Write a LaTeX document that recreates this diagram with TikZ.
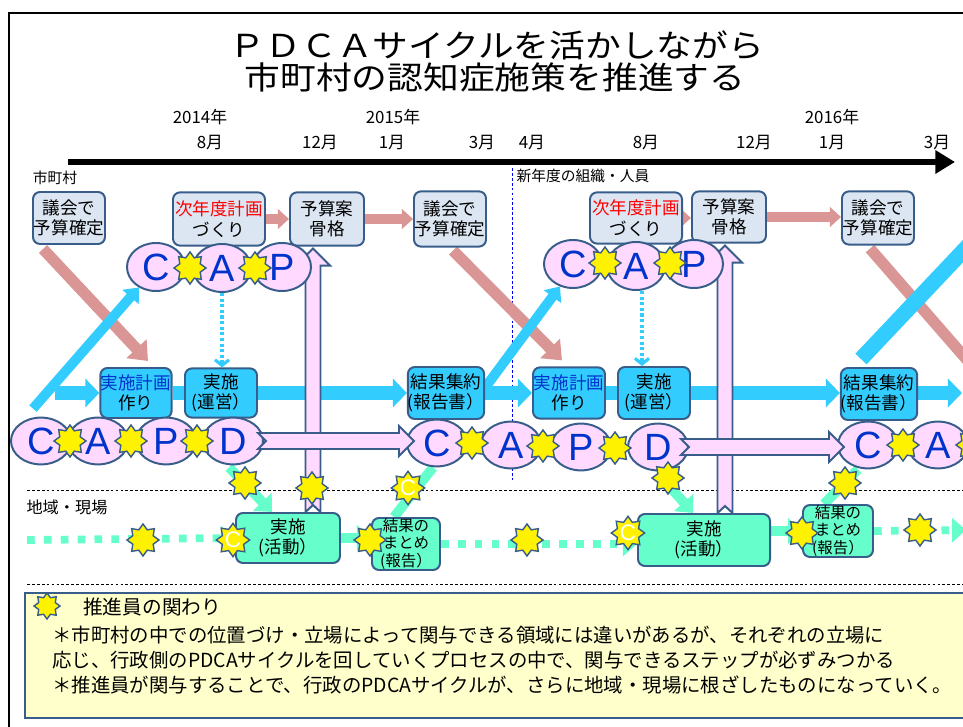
\documentclass[tikz,border=0pt]{standalone}
\usepackage{fontspec}
\setmainfont{Noto Sans CJK JP}
\newfontfamily\widejp{Noto Sans CJK JP}[FakeStretch=1.13]
\newfontfamily\latinsans{Liberation Sans}
\usetikzlibrary{arrows.meta,shapes.geometric,calc}

\definecolor{edgeblue}{RGB}{56,93,138}
\definecolor{paleblue}{RGB}{220,230,242}
\definecolor{skyblue}{RGB}{51,204,255}
\definecolor{salmon}{RGB}{217,150,148}
\definecolor{pinkfill}{RGB}{255,217,255}
\definecolor{mint}{RGB}{102,255,204}
\definecolor{letterblue}{RGB}{0,51,204}
\definecolor{notefill}{RGB}{255,255,204}

\pgfdeclarelayer{back}
\pgfdeclarelayer{flow}
\pgfdeclarelayer{front}
\pgfsetlayers{back,flow,main,front}

\tikzset{
  cityplan/.style={draw=edgeblue, fill=paleblue, line width=1.4pt, rounded corners=5pt,
    align=center, inner sep=0pt, font=\fontsize{12.5}{14.5}\selectfont},
  workbox/.style={cityplan, fill=skyblue},
  fieldbox/.style={cityplan, fill=mint},
  phase/.style={ellipse, draw=edgeblue, fill=pinkfill, line width=1.4pt, inner sep=0pt,
    minimum width=1.45cm, minimum height=1.2cm, text=letterblue,
    font=\latinsans\fontsize{27}{27}\selectfont},
  phaselow/.style={phase, minimum width=1.5cm, minimum height=1.17cm},
  helper/.style={star, star points=8, star point ratio=1.45, draw=edgeblue, fill=yellow,
    line width=1pt, minimum size=0.8cm, inner sep=0pt, text=white,
    font=\latinsans\fontsize{16}{16}\selectfont},
  budgetflow/.style={draw=salmon, line width=6.5pt, -{Triangle[length=8pt,width=14pt]}},
  budgetslant/.style={draw=salmon, line width=8pt, -{Triangle[length=12pt,width=19pt]}},
  workflow/.style={draw=skyblue, line width=10pt, -{Triangle[length=10pt,width=20pt]}},
  workslant/.style={draw=skyblue, line width=7pt, -{Triangle[length=9pt,width=15pt]}},
  fieldflow/.style={draw=mint, line width=7pt, -{Triangle[length=10pt,width=18pt]}},
  fielddots/.style={draw=mint, line width=5.5pt, dash pattern=on 5.5pt off 6.5pt,
    -{Triangle[length=10pt,width=17pt]}},
  blockpink/.style={draw=edgeblue, fill=pinkfill, line width=1.4pt, line join=miter},
  guide/.style={draw=skyblue, line width=2.2pt, dash pattern=on 2.2pt off 1.8pt,
    -{Straight Barb[length=4pt,width=10pt]}},
  sep/.style={line width=0.6pt, dash pattern=on 2pt off 1.5pt}
}

% horizontal pink block arrow: notched tail at #1, tip at #2
\newcommand{\pushflow}[2]{%
  \draw[blockpink] ($(#1)+(-8,-8)$) -- ($(#2)+(-15,-8)$) -- ($(#2)+(-15,-15)$)
    -- (#2) -- ($(#2)+(-15,15)$) -- ($(#2)+(-15,8)$) -- ($(#1)+(-8,8)$) -- (#1) -- cycle;}
% vertical pink block arrow: tail on #1, tip at #2
\newcommand{\riseflow}[2]{%
  \draw[blockpink] ($(#1)+(-7.5,0)$) -- ($(#2)+(-7.5,17)$) -- ($(#2)+(-17,17)$)
    -- (#2) -- ($(#2)+(17,17)$) -- ($(#2)+(7.5,17)$) -- ($(#1)+(7.5,0)$) -- ($(#1)+(0,-7)$) -- cycle;}

\begin{document}
\begin{tikzpicture}[x=0.025cm, y=-0.025cm]
\useasboundingbox (0,0) rectangle (963,727);
\clip (0,0) rectangle (963,727);

\draw[line width=1.3pt] (9,13) rectangle (1000,760);

%% title
\path
(497,45) node[font=\widejp\fontsize{22.5}{24}\selectfont, inner sep=0pt] (title) {ＰＤＣＡサイクルを活かしながら}
(495,77) node[font=\widejp\fontsize{22.5}{24}\selectfont, inner sep=0pt] (subtitle) {市町村の認知症施策を推進する};

%% time line
\coordinate (tstart) at (68,162);
\coordinate (tend) at (955,162);
\draw[line width=4.5pt, -{Triangle[length=14pt,width=16pt]}] (tstart) -- (tend);

\path[font=\fontsize{12}{14}\selectfont]
(200,117) node (y2014) {2014年}
(393,117) node (y2015) {2015年}
(832,117) node (y2016) {2016年}
(210,143) node (m8a) {8月}
(320,143) node (m12a) {12月}
(392,143) node (m1a) {1月}
(482,143) node (m3a) {3月}
(532,143) node (m4a) {4月}
(646,143) node (m8b) {8月}
(754,143) node (m12b) {12月}
(832,143) node (m1b) {1月}
(937,143) node (m3b) {3月};

\path
(55,178) node[font=\fontsize{10.5}{12}\selectfont] (citylbl) {市町村}
(583,176) node[font=\fontsize{10.5}{12}\selectfont] (newyearlbl) {新年度の組織・人員}
(67,507) node[font=\fontsize{11.5}{13}\selectfont] (fieldlbl) {地域・現場};

%% city boxes
\path
(69,218)  node[cityplan, minimum width=1.8cm, minimum height=1.3cm]   (kaigiA)  {議会で\\予算確定}
(219,219) node[cityplan, minimum width=2.3cm, minimum height=1.33cm]  (nextA)   {\textcolor{red}{次年度計画}\\づくり}
(327,219) node[cityplan, minimum width=1.85cm, minimum height=1.33cm] (budgetA) {予算案\\骨格}
(450,219) node[cityplan, minimum width=1.8cm, minimum height=1.38cm]  (kaigiB)  {議会で\\予算確定}
(636,218) node[cityplan, minimum width=2.3cm, minimum height=1.28cm]  (nextB)   {\textcolor{red}{次年度計画}\\づくり}
(729,217) node[cityplan, minimum width=1.85cm, minimum height=1.28cm] (budgetB) {予算案\\骨格}
(878,218) node[cityplan, minimum width=1.8cm, minimum height=1.33cm]  (kaigiC)  {議会で\\予算確定};

\path
(136,393) node[workbox, minimum width=1.78cm, minimum height=1.25cm] (planA) {\textcolor{letterblue}{実施計画}\\作り}
(221,393) node[workbox, minimum width=1.8cm, minimum height=1.23cm]  (runA)  {実施\\(運営）}
(446,393) node[workbox, minimum width=1.8cm, minimum height=1.3cm]   (sumA)  {結果集約\\(報告書）}
(569,393) node[workbox, minimum width=1.8cm, minimum height=1.28cm]  (planB) {\textcolor{letterblue}{実施計画}\\作り}
(654,393) node[workbox, minimum width=1.8cm, minimum height=1.3cm]   (runB)  {実施\\(運営）}
(879,394) node[workbox, minimum width=1.8cm, minimum height=1.3cm]   (sumB)  {結果集約\\(報告書）};

%% field boxes
\path
(288,538) node[fieldbox, minimum width=2.6cm, minimum height=1.25cm] (actA) {実施\\(活動）}
(406,544) node[fieldbox, minimum width=1.7cm, minimum height=1.3cm, font=\fontsize{11}{12.5}\selectfont] (repA) {結果の\\まとめ\\(報告）}
(704,540) node[fieldbox, minimum width=3.3cm, minimum height=1.3cm] (actB) {実施\\(活動）}
(838,531) node[fieldbox, minimum width=1.75cm, minimum height=1.3cm, font=\fontsize{11}{12.5}\selectfont] (repB) {結果の\\まとめ\\(報告）};

%% C A P above
\path
(156,267) node[phase] (uC1) {C}
(222,268) node[phase] (uA1) {A}
(282,267) node[phase] (uP1) {P}
(573,264) node[phase] (uC2) {C}
(636,266) node[phase] (uA2) {A}
(694,264) node[phase] (uP2) {P};

%% C A P D along the year
\path
(41,441)  node[phaselow] (lC1) {C}
(98,441)  node[phaselow] (lA1) {A}
(166,441) node[phaselow] (lP1) {P}
(233,441) node[phaselow] (lD1) {D}
(437,443) node[phaselow] (lC2) {C}
(511,445) node[phaselow] (lA2) {A}
(581,447) node[phaselow] (lP2) {P}
(658,447) node[phaselow] (lD2) {D}
(868,445) node[phaselow] (lC3) {C}
(938,445) node[phaselow] (lA3) {A};

%% stars
\path
(190,268) node[helper] (sCA1) {}
(255,268) node[helper] (sAP1) {}
(605,263) node[helper] (sCA2) {}
(670,263) node[helper] (sAP2) {}
(70,441)  node[helper] (sLCA1) {}
(131,441) node[helper] (sLAP1) {}
(197,441) node[helper] (sLPD1) {}
(472,443) node[helper] (sLCA2) {}
(543,446) node[helper] (sLAP2) {}
(615,448) node[helper] (sLPD2) {}
(903,445) node[helper] (sLCA3) {}
(972,445) node[helper] (sLAP3) {}
(245,483) node[helper] (sDoA) {}
(312,488) node[helper] (sRiseA) {}
(408,488) node[helper] (sChkA) {C}
(143,540) node[helper] (sWalkA) {}
(233,540) node[helper] (sActA) {C}
(370,540) node[helper] (sRepA) {}
(527,540) node[helper] (sWalkB) {}
(628,533) node[helper] (sActB) {C}
(668,478) node[helper] (sDoB) {}
(845,483) node[helper] (sChkB) {}
(802,533) node[helper] (sRepB) {}
(920,530) node[helper] (sWalkC) {};

%% legend
\draw[draw=edgeblue, fill=notefill, line width=1.4pt] (25,593) rectangle (1000,718);
\node[helper, minimum size=0.65cm] (keystar) at (47,606) {};
\path[font=\fontsize{13.8}{16}\selectfont, inner sep=0pt]
(83,607) node[anchor=west, font=\fontsize{14}{16}\selectfont] (keytext) {推進員の関わり}
(52,635) node[anchor=west] (noteA) {＊市町村の中での位置づけ・立場によって関与できる領域には違いがあるが、それぞれの立場に}
(52,660) node[anchor=west] (noteB) {応じ、行政側のPDCAサイクルを回していくプロセスの中で、関与できるステップが必ずみつかる}
(52,685) node[anchor=west] (noteC) {＊推進員が関与することで、行政のPDCAサイクルが、さらに地域・現場に根ざしたものになっていく。};

\begin{pgfonlayer}{back}
\draw[sep] (27,490) -- (963,490);
\draw[sep] (27,584) -- (963,584);
\draw[sep, blue] (512,168) -- (512,480);

%% budget steps
\draw[budgetflow] (nextA.east) -- (budgetA.west |- nextA.east);
\draw[budgetflow] (budgetA.east) -- (kaigiB.west |- budgetA.east);
\draw[budgetflow] (nextB.east) -- (budgetB.west |- nextB.east);
\draw[budgetflow] (budgetB.east) -- (kaigiC.west |- budgetB.east);
\coordinate (nextbudget) at (995,392);
\draw[budgetslant] ($(kaigiA.south)+(-26,4)$) -- ($(planA.north)+(12,-6)$);
\draw[budgetslant] ($(kaigiB.south)+(3,3)$) -- ($(planB.north)+(-7,-6)$);
\draw[budgetslant] ($(kaigiC.south)+(-8,3)$) -- (nextbudget);

%% work flow
\coordinate (feedA) at (55,393);
\coordinate (feedB) at (962,393);
\draw[workflow] (feedA) -- (planA.west);
\draw[workflow, -] (planA.east) -- (runA.west);
\draw[workflow] (runA.east) -- (sumA.west);
\draw[workflow] (sumA.east) -- (planB.west);
\draw[workflow, -] (planB.east) -- (runB.west);
\draw[workflow] (runB.east) -- (sumB.west |- runB.east);
\draw[workflow] (sumB.east |- feedB) -- (feedB);
\draw[workslant] ($(lC1.north)+(-8,-8)$) -- (uC1.230);
\draw[workslant] ($(sumA.east)+(-4,0)$) -- (uC2.240);
\coordinate (nextcheck) at (1000,212);
\draw[workslant, line width=11pt] ($(sumB.north)+(-18,-8)$) -- (nextcheck);
\draw[guide] (uA1.south) -- (uA1.south |- runA.north);
\draw[guide] ($(uA2.south)+(6,0)$) -- ($(uA2.south |- runB.north)+(6,0)$);

%% field flow
\draw[fieldflow] ($(lD1.south)+(-4,2)$) -- ($(actA.north)+(-16,0)$);
\draw[fieldflow, -] ($(repA.north)+(-12,0)$) -- ($(lC2.south)+(-4,0)$);
\draw[fieldflow] ($(lD2.south)+(0,2)$) -- ($(actB.north)+(-11,0)$);
\draw[fieldflow, -] ($(repB.north)+(-14,0)$) -- ($(lC3.south)+(-10,0)$);
\coordinate (fieldin) at (27,540);
\coordinate (fieldout) at (966,530);
\draw[fielddots] (fieldin) -- (actA.west);
\draw[fieldflow] (actA.east) -- (repA.west |- actA.east);
\draw[fielddots] (repA.east) -- (actB.west |- repA.east);
\draw[fieldflow] (actB.east |- repB.west) -- (repB.west);
\draw[fielddots] (repB.east) -- (fieldout);
\end{pgfonlayer}

%% budget feedback from the field
\begin{pgfonlayer}{flow}
\coordinate (riseA) at ($(actA.north)+(25,0)$);
\coordinate (peakA) at ($(riseA |- budgetA.south)+(0,2)$);
\riseflow{riseA}{peakA}
\coordinate (riseB) at ($(actB.north)+(21,0)$);
\coordinate (peakB) at ($(riseB |- budgetB.south)+(0,2)$);
\riseflow{riseB}{peakB}
\end{pgfonlayer}

%% D to C
\begin{pgfonlayer}{front}
\coordinate (pushA) at ($(lD1.east)+(2,0)$);
\coordinate (hitA) at ($(lC2.west |- pushA)+(8,0)$);
\pushflow{pushA}{hitA}
\coordinate (pushB) at (lD2.east);
\coordinate (hitB) at ($(lC3.west |- pushB)+(7,0)$);
\pushflow{pushB}{hitB}
\end{pgfonlayer}

\end{tikzpicture}
\end{document}
